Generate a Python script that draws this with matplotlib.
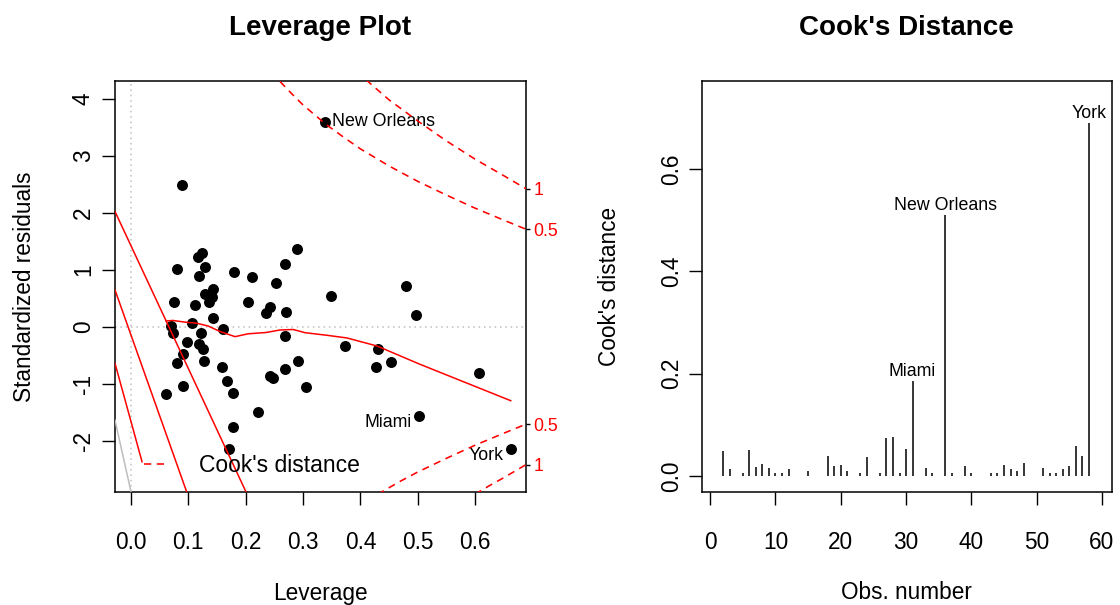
#!/usr/bin/env python3
# -*- coding: utf-8 -*-

import matplotlib
matplotlib.use("Agg")
import matplotlib.pyplot as plt
from matplotlib.lines import Line2D

plt.rcParams["font.family"] = ["Liberation Sans", "DejaVu Sans"]

# === DATI ================================================================================
# leverage (h_ii) e residui standardizzati delle 58 osservazioni
leverage = [0.0884, 0.1233, 0.1174, 0.0808, 0.1291, 0.1191, 0.2890, 0.2681, 0.1802, 0.2116,
            0.2524, 0.3483, 0.1425, 0.1291, 0.1408, 0.1366, 0.0750, 0.1116, 0.2041, 0.2425,
            0.2350, 0.2703, 0.1425, 0.1059, 0.0692, 0.0727, 0.1610, 0.1221, 0.2686, 0.3733,
            0.0972, 0.1191, 0.1251, 0.0912, 0.1273, 0.0808, 0.1582, 0.2918, 0.2681, 0.2425,
            0.2482, 0.1669, 0.0902, 0.3047, 0.0605, 0.1784, 0.3384, 0.4792, 0.4966, 0.4303,
            0.4273, 0.4535, 0.6075, 0.2220, 0.5029, 0.1784, 0.1709, 0.6623]
std_resid = [2.486, 1.298, 1.218, 1.007, 1.053, 0.895, 1.363, 1.105, 0.954, 0.877,
             0.772, 0.539, 0.656, 0.574, 0.526, 0.439, 0.433, 0.381, 0.439, 0.351,
             0.235, 0.253, 0.147, 0.070, 0.012, -0.105, -0.046, -0.105, -0.158, -0.339,
             -0.263, -0.304, -0.396, -0.484, -0.596, -0.642, -0.702, -0.596, -0.747, -0.860,
             -0.895, -0.953, -1.040, -1.063, -1.186, -1.158, 3.591, 0.719, 0.200, -0.391,
             -0.702, -0.619, -0.807, -1.502, -1.561, -1.765, -2.146, -2.146]
idx_lev = [46, 54, 57]
nomi_lev = ["New Orleans", "Miami", "York"]

# curva lisciata (rossa continua)
liscio_h = [0.0610, 0.0733, 0.0925, 0.1151, 0.1343, 0.1552, 0.1814, 0.2041, 0.2355, 0.2599,
            0.2826, 0.3035, 0.3419, 0.3768, 0.4291, 0.5041, 0.6623]
liscio_r = [0.100, 0.109, 0.082, 0.060, 0.012, -0.084, -0.175, -0.125, -0.102, -0.058,
            -0.049, -0.105, -0.151, -0.198, -0.339, -0.660, -1.298]

# rette rosse a sinistra (estremi) e retta grigia
rette_h = [[-0.028, 0.2006], [-0.028, 0.0971], [-0.028, 0.0192]]
rette_r = [[2.02, -2.90], [0.644, -2.90], [-0.643, -2.37]]
grigia_h = [-0.028, 0.0]
grigia_r = [-1.64, -2.90]

# contorni della distanza di Cook (livelli 0.5 e 1)
c05_sup_h = [0.26, 0.28, 0.30, 0.32, 0.34, 0.37, 0.40, 0.45, 0.50, 0.55, 0.60, 0.65, 0.689]
c05_sup_r = [4.30, 4.09, 3.89, 3.72, 3.55, 3.33, 3.12, 2.82, 2.55, 2.31, 2.08, 1.87, 1.71]
c1_sup_h = [0.41, 0.45, 0.50, 0.55, 0.60, 0.65, 0.689]
c1_sup_r = [4.33, 3.98, 3.61, 3.26, 2.94, 2.65, 2.42]
c05_inf_h = [0.43, 0.47, 0.50, 0.55, 0.60, 0.65, 0.689]
c05_inf_r = [-2.94, -2.71, -2.55, -2.31, -2.08, -1.87, -1.71]
c1_inf_h = [0.60, 0.625, 0.65, 0.689]
c1_inf_r = [-2.94, -2.79, -2.65, -2.42]
livelli_pos = [-2.42, -1.71, 1.71, 2.42]
livelli_lab = ["1", "0.5", "0.5", "1"]

# distanza di Cook per osservazione
oss = list(range(1, 59))
cook = [0.0003, 0.048, 0.013, 0.0003, 0.0065, 0.051, 0.018, 0.024, 0.016, 0.0065,
        0.005, 0.014, 0.0003, 0.0003, 0.0098, 0.0003, 0.0003, 0.038, 0.019, 0.021,
        0.0098, 0.0003, 0.005, 0.036, 0.0003, 0.005, 0.074, 0.076, 0.0065, 0.053,
        0.185, 0.0003, 0.016, 0.0065, 0.0003, 0.511, 0.005, 0.0003, 0.019, 0.0065,
        0.0003, 0.0003, 0.005, 0.0065, 0.021, 0.014, 0.0098, 0.026, 0.0003, 0.0003,
        0.016, 0.0065, 0.005, 0.013, 0.019, 0.059, 0.038, 0.690]
idx_cook = [30, 35, 57]
nomi_cook = ["Miami", "New Orleans", "York"]
# =========================================================================================

W, H = 1120, 605
fig = plt.figure(figsize=(W / 100, H / 100), dpi=100)


def riquadro(l, t, r, b):
    """Posizione degli assi in pixel -> frazioni di figura."""
    return [l / W, 1 - b / H, (r - l) / W, (b - t) / H]


ax1 = fig.add_axes(riquadro(115, 81, 526, 492))
ax2 = fig.add_axes(riquadro(701.7, 80.7, 1111.7, 491.7))

tratteggio = (0, (4.5, 3.5))
fs_assi = 16.3
fs_id = 12.8

# ------------- 1) leverage plot ----------------------------------------------------------
ax1.axhline(0, color="#BEBEBE", lw=1.1, ls=(0, (1, 2.5)), zorder=1)
ax1.axvline(0, color="#BEBEBE", lw=1.1, ls=(0, (1, 2.5)), zorder=1)
ax1.plot(leverage, std_resid, "o", color="black", ms=7.9, mec="none", zorder=3)

for hh, rr in zip(rette_h, rette_r):
    ax1.plot(hh, rr, color="red", lw=1.1, zorder=4)
ax1.plot(grigia_h, grigia_r, color="#BEBEBE", lw=1.1, zorder=4)
ax1.plot(liscio_h, liscio_r, color="red", lw=1.1, zorder=4)

for hh, rr in [(c05_sup_h, c05_sup_r), (c1_sup_h, c1_sup_r),
               (c05_inf_h, c05_inf_r), (c1_inf_h, c1_inf_r)]:
    ax1.plot(hh, rr, color="red", lw=1.15, ls=tratteggio, zorder=4)

# etichette: a destra dei punti nella meta' sinistra, a sinistra altrimenti
centro_h = (min(leverage) + max(leverage)) / 2
for i, nome in zip(idx_lev, nomi_lev):
    a_destra = leverage[i] < centro_h
    dy = 0 if std_resid[i] > 0 else -5
    ax1.annotate(nome, (leverage[i], std_resid[i]),
                 xytext=(5.2 if a_destra else -5.4, dy), textcoords="offset points",
                 ha="left" if a_destra else "right", va="center", fontsize=fs_id)

ax1.set_xlim(-0.028, 0.689)
ax1.set_ylim(-2.90, 4.31)
ax1.set_xticks([0, 0.1, 0.2, 0.3, 0.4, 0.5, 0.6],
               labels=["0.0", "0.1", "0.2", "0.3", "0.4", "0.5", "0.6"])
ax1.set_yticks([-2, -1, 0, 1, 2, 3, 4],
               labels=["-2", "-1", "0", "1", "2", "3", "4"])

# etichette dei livelli di Cook sul lato destro
ax1_dx = ax1.secondary_yaxis("right")
ax1_dx.set_yticks(livelli_pos, labels=livelli_lab)
ax1_dx.tick_params(length=2.9, width=1, pad=2.4, labelsize=fs_id, labelcolor="red")
ax1_dx.spines["right"].set_visible(False)

leg_handle = Line2D([], [], color="red", lw=1.15, ls=tratteggio)
ax1.legend([leg_handle], ["Cook's distance"], loc="center left",
           bbox_to_anchor=(0.0706, 0.0633), frameon=False, borderpad=0,
           borderaxespad=0, handlelength=0.95, handletextpad=1.45, fontsize=16.5)

ax1.set_title("Leverage Plot", fontsize=20, fontweight="bold", pad=33)
ax1.set_xlabel("Leverage", fontsize=fs_assi)
ax1.set_ylabel("Standardized residuals", fontsize=fs_assi)
ax1.xaxis.set_label_coords(0.5, -0.262)
ax1.yaxis.set_label_coords(-0.219, 0.5)

# ------------- 2) distanza di Cook --------------------------------------------------------
ax2.vlines(oss, 0, cook, color="black", lw=1.1)
for i, nome in zip(idx_cook, nomi_cook):
    ax2.annotate(nome, (oss[i], cook[i]), xytext=(0, 0.7), textcoords="offset points",
                 ha="center", va="bottom", fontsize=fs_id)

ax2.set_xlim(-1.3, 61.5)
ax2.set_ylim(-0.031, 0.773)
ax2.set_xticks([0, 10, 20, 30, 40, 50, 60])
ax2.set_yticks([0, 0.2, 0.4, 0.6], labels=["0.0", "0.2", "0.4", "0.6"])
ax2.set_title("Cook's Distance", fontsize=20, fontweight="bold", pad=33)
ax2.set_xlabel("Obs. number", fontsize=fs_assi)
ax2.set_ylabel("Cook's distance", fontsize=fs_assi)
ax2.xaxis.set_label_coords(0.5, -0.262)
ax2.yaxis.set_label_coords(-0.226, 0.5)

# ------------- 3) stile comune degli assi ------------------------------------------------
for ax, pad_y in [(ax1, 5.0), (ax2, 3.8)]:
    for sp in ax.spines.values():
        sp.set_linewidth(1.1)
    ax.tick_params(direction="out", length=9.4, width=1, labelsize=fs_assi)
    ax.tick_params(axis="x", pad=19)
    ax.tick_params(axis="y", pad=pad_y, labelrotation=90)
    plt.setp(ax.get_yticklabels(), va="center")
    ax.xaxis.label.set_va("baseline")
    ax.yaxis.label.set_va("center")

fig.savefig("out.png", dpi=100)
